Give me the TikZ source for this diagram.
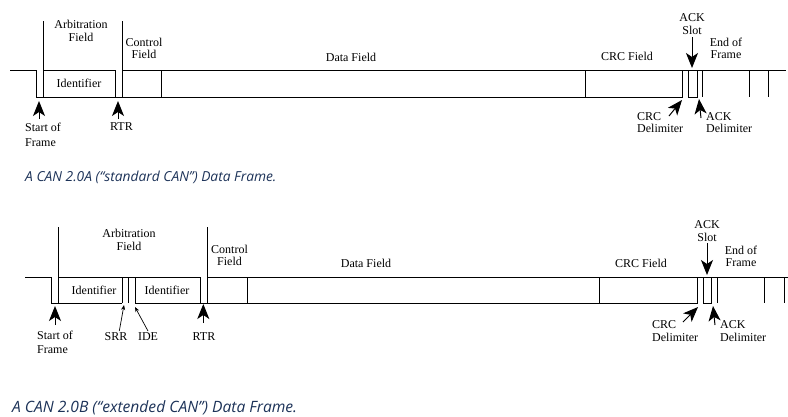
\documentclass[tikz,border=0pt]{standalone}
\usepackage{fontspec}
\setmainfont{Liberation Serif}
\newfontfamily\capfont{Open Sans}
\usepackage{xcolor}
\usetikzlibrary{arrows.meta,positioning}
\definecolor{capblue}{RGB}{28,50,88}
\tikzset{
wave/.style={line width=1pt,black},
lbl/.style={font=\fontsize{12}{12.5}\selectfont,align=center,inner sep=0pt},
lbll/.style={lbl,align=left},
bigarr/.style={line width=1pt,-{Stealth[length=15pt,width=12pt,inset=4pt]}},
thinarr/.style={line width=0.7pt,-{Stealth[length=5pt,width=4pt]}},
caption/.style={font=\capfont\itshape\fontsize{13.8}{15}\selectfont,text=capblue,anchor=west,inner sep=0pt}
}
\begin{document}
\begin{tikzpicture}[x=1pt,y=-1pt]
\useasboundingbox (0,0) rectangle (788,416);
% standard frame
\draw[wave] (10,70) -- (36,70) -- (36,97) -- (682,97) -- (682,70);
\draw[wave] (43,21) -- (43,97);
\draw[wave] (43,70) -- (115,70) -- (115,97);
\draw[wave] (122,21) -- (122,97);
\draw[wave] (122,70) -- (786,70);
\foreach \x in {161,585,702,749,768} \draw[wave] (\x,70) -- (\x,97);
\draw[wave] (688,70) rectangle (697,97);
\node[lbl] (arbA) at (81,31) {Arbitration\\Field};
\node[lbl] (ctlA) at (144,48.5) {Control\\Field};
\node[lbl] (datA) at (351,57) {Data Field};
\node[lbl] (crcA) at (627,56) {CRC Field};
\node[lbl] (ackA) at (692,24) {ACK\\Slot};
\node[lbl] (eofA) at (726,48.5) {End of\\Frame};
\node[lbl] (idA) at (79,83) {Identifier};
\node[lbll,anchor=west] (sofA) at (25,135) {Start of\\[3pt]Frame};
\node[lbl] (rtrA) at (121.5,127) {RTR};
\node[lbll,anchor=west] (crcdA) at (637,122.5) {CRC\\Delimiter};
\node[lbll,anchor=west] (ackdA) at (706,122.5) {ACK\\Delimiter};
\coordinate (sofAtip) at (39,101); \coordinate (sofAend) at (39,119);
\coordinate (rtrAtip) at (118,101); \coordinate (rtrAend) at (118,119);
\coordinate (ackAtip) at (692,68); \coordinate (ackAend) at (692,37);
\coordinate (crcdAtip) at (682,100); \coordinate (crcdAend) at (669,116);
\coordinate (ackdAtip) at (699,99); \coordinate (ackdAend) at (701,118);
\draw[bigarr] (sofAend) -- (sofAtip);
\draw[bigarr] (rtrAend) -- (rtrAtip);
\draw[bigarr] (ackAend) -- (ackAtip);
\draw[bigarr] (crcdAend) -- (crcdAtip);
\draw[bigarr] (ackdAend) -- (ackdAtip);
\node[caption] (capA) at (25,177) {A CAN 2.0A (“standard CAN”) Data Frame.};
% extended frame
\draw[wave] (25,277) -- (51.7,277) -- (51.7,303) -- (122.3,303);
\draw[wave] (58.3,227) -- (58.3,303);
\draw[wave] (58.3,277) -- (200,277) -- (200,303);
\draw[wave] (135,303) -- (697,303) -- (697,277);
\draw[wave] (207.3,227) -- (207.3,303);
\draw[wave] (207.3,277) -- (788,277);
\foreach \x in {122.3,128.3,135,247,599,717,764,784} \draw[wave] (\x,277) -- (\x,303);
\draw[wave] (703,277) rectangle (711,303);
\node[lbl] (arbB) at (129,240) {Arbitration\\Field};
\node[lbl] (ctlB) at (229.5,255.5) {Control\\Field};
\node[lbl] (datB) at (366,263) {Data Field};
\node[lbl] (crcB) at (641,263) {CRC Field};
\node[lbl] (ackB) at (707,231) {ACK\\Slot};
\node[lbl] (eofB) at (741,256.5) {End of\\Frame};
\node[lbl] (idB1) at (94,290) {Identifier};
\node[lbl] (idB2) at (167,290) {Identifier};
\node[lbll,anchor=west] (sofB) at (37,342.5) {Start of\\[1pt]Frame};
\node[lbl] (srrB) at (116,337) {SRR};
\node[lbl] (ideB) at (148,337) {IDE};
\node[lbl] (rtrB) at (204,337) {RTR};
\node[lbll,anchor=west] (crcdB) at (652,331) {CRC\\Delimiter};
\node[lbll,anchor=west] (ackdB) at (720,331) {ACK\\Delimiter};
\coordinate (sofBtip) at (55,306); \coordinate (sofBend) at (55,325);
\coordinate (rtrBtip) at (203.3,304); \coordinate (rtrBend) at (203.3,323);
\coordinate (ackBtip) at (707,275); \coordinate (ackBend) at (707,243);
\coordinate (crcdBtip) at (698,307); \coordinate (crcdBend) at (683,322);
\coordinate (ackdBtip) at (713,306); \coordinate (ackdBend) at (715,325);
\coordinate (srrBtip) at (124,305); \coordinate (srrBend) at (119.3,331);
\coordinate (ideBtip) at (135,307); \coordinate (ideBend) at (148,331);
\draw[bigarr] (sofBend) -- (sofBtip);
\draw[bigarr] (rtrBend) -- (rtrBtip);
\draw[bigarr] (ackBend) -- (ackBtip);
\draw[bigarr] (crcdBend) -- (crcdBtip);
\draw[bigarr] (ackdBend) -- (ackdBtip);
\draw[thinarr] (srrBend) -- (srrBtip);
\draw[thinarr] (ideBend) -- (ideBtip);
\node[caption,font=\capfont\itshape\fontsize{15.6}{17}\selectfont] (capB) at (12,408) {A CAN 2.0B (“extended CAN”) Data Frame.};
\end{tikzpicture}
\end{document}
